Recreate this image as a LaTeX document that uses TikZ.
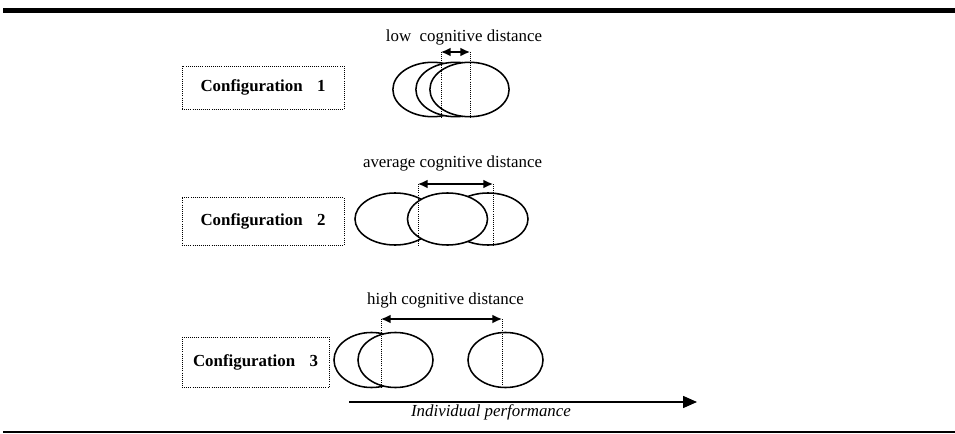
\documentclass[tikz,border=0pt]{standalone}
\usepackage{fontspec}
\setmainfont{Liberation Serif}
\usetikzlibrary{arrows.meta,shapes.geometric,positioning}

\begin{document}
\begin{tikzpicture}[x=0.025cm,y=-0.025cm,every node/.style={font=\fontsize{12}{14}\selectfont},cfgbox/.style={draw,densely dotted,line width=0.5pt,minimum width=#1,font=\fontsize{12}{14}\selectfont\bfseries},blob/.style={ellipse,draw,fill=white,line width=1.1pt,inner sep=0pt,minimum width=#1,minimum height=1.36cm},blob/.default=1.98cm,guide/.style={densely dotted,line width=0.5pt},gap/.style={{Latex[length=2.4mm,width=2.2mm]}-{Latex[length=2.4mm,width=2.2mm]},line width=1.1pt}]
\useasboundingbox (0,0) rectangle (955,434);
\draw[line width=3.6pt] (3,10.5) -- (955,10.5);
\draw[line width=1.4pt] (3,432) -- (955,432);

\node[cfgbox=4.05cm,minimum height=1.075cm] (cfg1) at (263,87.5) {Configuration\hspace{0.85em}1};
\node[blob] (a1) at (432.5,89.5) {};
\node[blob] (b1) at (455.5,89.5) {};
\node[blob] (c1) at (469.5,89.5) {};
\coordinate (l1) at (441,52);
\coordinate (r1) at (470,52);
\draw[guide] (l1) -- (l1 |- c1.south);
\draw[guide] (r1) -- (r1 |- c1.south);
\draw[gap] (l1) -- (r1);
\node (low) at (464,37) {low~~cognitive distance};

\node[cfgbox=4.05cm,minimum height=1.2cm] (cfg2) at (263,221) {Configuration\hspace{0.85em}2};
\node[blob=2cm,minimum height=1.3cm] (a2) at (395,219) {};
\node[blob=2cm,minimum height=1.3cm] (c2) at (488,219) {};
\node[blob=2cm,minimum height=1.3cm] (b2) at (447.5,219) {};
\coordinate (l2) at (418,184);
\coordinate (r2) at (493,184);
\draw[guide] (l2) -- (l2 |- b2.south);
\draw[guide] (r2) -- (r2 |- b2.south);
\draw[gap] (l2) -- (r2);
\node (avg) at (452.5,163) {average cognitive distance};

\node[cfgbox=3.675cm,minimum height=1.25cm] (cfg3) at (255.5,362) {Configuration\hspace{0.85em}3};
\node[blob=1.875cm,minimum height=1.375cm] (a3) at (371.5,360) {};
\node[blob=1.875cm,minimum height=1.375cm] (b3) at (395.5,360) {};
\node[blob=1.875cm,minimum height=1.375cm] (c3) at (505.5,360) {};
\coordinate (l3) at (381,319);
\coordinate (r3) at (502,319);
\draw[guide] (l3) -- (l3 |- a3.south);
\draw[guide] (r3) -- (r3 |- c3.south);
\draw[gap] (l3) -- (r3);
\node (high) at (445.5,300) {high cognitive distance};

\coordinate (pstart) at (349,402);
\coordinate (pend) at (697,402);
\draw[-{Triangle[length=3.5mm,width=3mm]},line width=1.1pt] (pstart) -- (pend);
\node[font=\fontsize{12}{14}\selectfont\itshape] (perf) at (491,412) {Individual performance};
\end{tikzpicture}
\end{document}
